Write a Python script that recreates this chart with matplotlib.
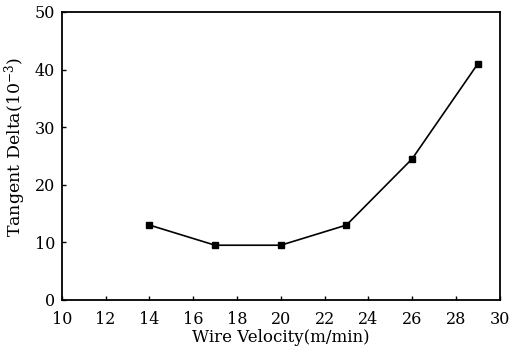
import matplotlib
matplotlib.use("Agg")
import matplotlib.pyplot as plt

velocity = [14, 17, 20, 23, 26, 29]
tan_delta = [13, 9.5, 9.5, 13, 24.5, 41]
xticks = [10, 12, 14, 16, 18, 20, 22, 24, 26, 28, 30]
yticks = [0, 10, 20, 30, 40, 50]

plt.rcParams['font.family'] = ['DejaVu Serif']
plt.rcParams['mathtext.fontset'] = 'dejavuserif'
fig = plt.figure(figsize=(5.11, 3.5), dpi=100)
ax = fig.add_axes([0.121, 0.143, 0.857, 0.823])
ax.plot(velocity, tan_delta, color='black', lw=1.2, marker='s', ms=5)
ax.set_xlim(10, 30)
ax.set_ylim(0, 50)
ax.set_xticks(xticks)
ax.set_yticks(yticks)
ax.tick_params(direction='in', length=3, labelsize=11.5, width=1)
ax.tick_params(axis='x', pad=8)
ax.tick_params(axis='y', pad=5)
for s in ax.spines.values():
    s.set_linewidth(1.3)
ax.set_xlabel('Wire Velocity(m/min)', fontsize=12, labelpad=1)
ax.set_ylabel('Tangent Delta(10$^{-3}$)', fontsize=12.5, va='center')
ax.yaxis.set_label_coords(-0.107, 0.53)
fig.savefig('out.png', dpi=100)
